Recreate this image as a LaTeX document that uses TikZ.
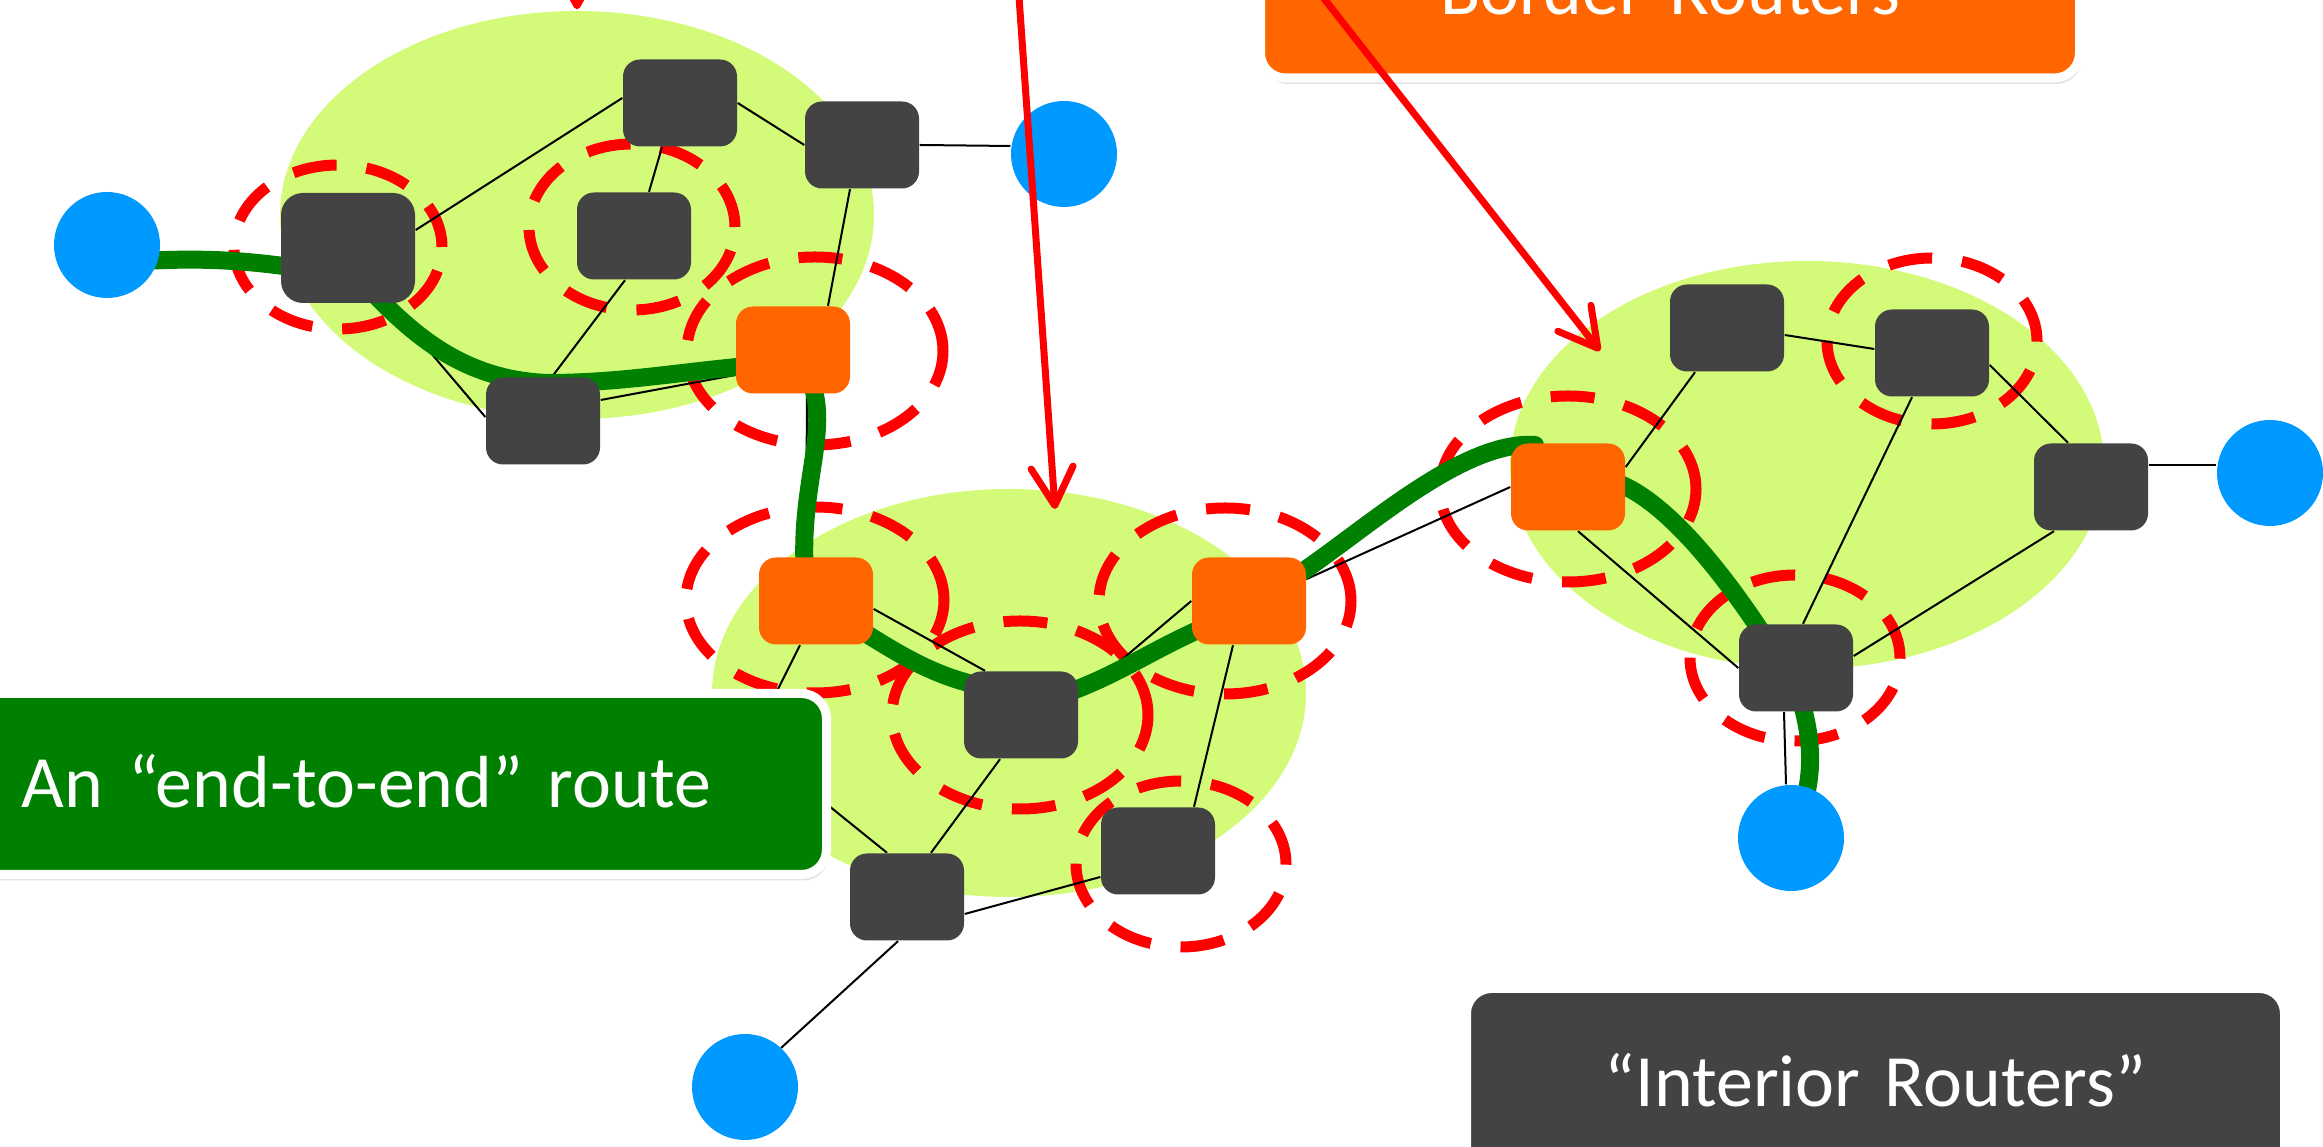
\documentclass[tikz,border=0pt]{standalone}
\usepackage{fontspec}
\setmainfont{Carlito}
\usetikzlibrary{arrows.meta,shapes.geometric,shadows}
\definecolor{blobgreen}{RGB}{212,250,122}
\definecolor{darkgray}{RGB}{67,67,67}
\definecolor{orng}{RGB}{255,102,0}
\definecolor{hostblue}{RGB}{0,153,255}
\definecolor{routegreen}{RGB}{0,128,0}
\newcommand\lblfont{\fontsize{21pt}{25pt}\selectfont}
\pgfdeclarelayer{blobs}\pgfdeclarelayer{rings}\pgfdeclarelayer{links}\pgfdeclarelayer{routes}
\pgfsetlayers{blobs,rings,links,routes,main}
\tikzset{
  blob/.style={ellipse, fill=blobgreen, minimum width=5.94cm, minimum height=4.08cm, inner sep=0},
  router/.style={rectangle, rounded corners=0.17cm, fill=darkgray, minimum width=1.14cm, minimum height=0.87cm, inner sep=0},
  border/.style={router, fill=orng},
  host/.style={circle, fill=hostblue, minimum size=1.06cm, inner sep=0},
  link/.style={line width=0.02cm, black},
  route/.style={line width=0.18cm, routegreen, line cap=round},
  ring/.style={red, line width=0.11cm, dash pattern=on 0.44cm off 0.30cm},
  pointer/.style={red, line width=0.07cm, line cap=round, -{Straight Barb[length=0.38cm, width=0.42cm, round]}},
  label/.style={rectangle, rounded corners=0.25cm, draw=white, line width=0.09cm, text=white, font=\lblfont,
    inner ysep=0, text height=0.47cm, text depth=0cm,
    drop shadow={shadow xshift=0.02cm, shadow yshift=-0.06cm, opacity=0.22}}
}
\begin{document}
\begin{tikzpicture}
\useasboundingbox (0,0) rectangle (23.23,-11.47);
% clusters
\begin{pgfonlayer}{blobs}
\node[blob] (cl1) at (5.77,-2.15) {};
\node[blob] (cl2) at (10.09,-6.93) {};
\node[blob] (cl3) at (18.07,-4.65) {};
\end{pgfonlayer}
% hosts and routers
\node[host] (bL) at (1.07,-2.45) {};
\node[router, minimum width=1.34cm, minimum height=1.10cm, rounded corners=0.22cm] (A) at (3.48,-2.48) {};
\node[router] (B) at (6.80,-1.03) {};
\node[router] (C) at (6.34,-2.36) {};
\node[router] (D) at (8.62,-1.45) {};
\node[router] (E) at (5.43,-4.21) {};
\node[border] (F1) at (7.93,-3.50) {};
\node[host] (bTR) at (10.64,-1.54) {};
\node[border] (F2) at (8.16,-6.01) {};
\node[border] (F3) at (12.49,-6.01) {};
\node[router] (M1) at (10.21,-7.15) {};
\node[router] (M2) at (11.58,-8.51) {};
\node[router] (M3) at (9.07,-8.97) {};
\node[host] (bB) at (7.45,-10.87) {};
\node[border] (F4) at (15.68,-4.87) {};
\node[router] (R1) at (17.27,-3.28) {};
\node[router] (R2) at (19.32,-3.53) {};
\node[router] (R3) at (20.91,-4.87) {};
\node[router] (R4) at (17.96,-6.68) {};
\node[host] (bR) at (22.70,-4.73) {};
\node[host] (bBR) at (17.91,-8.38) {};
\coordinate (hid) at (7.51,-7.43);
% dashed rings
\begin{pgfonlayer}{rings}
\draw[ring] (3.38,-2.47) ellipse [x radius=1.04, y radius=0.82];
\draw[ring] (6.32,-2.27) ellipse [x radius=1.03, y radius=0.83];
\draw[ring] (8.15,-3.51) ellipse [x radius=1.28, y radius=0.94];
\draw[ring] (8.15,-6.00) ellipse [x radius=1.29, y radius=0.93];
\draw[ring] (10.20,-7.15) ellipse [x radius=1.28, y radius=0.94];
\draw[ring] (12.25,-6.01) ellipse [x radius=1.26, y radius=0.93];
\draw[ring] (11.81,-8.64) ellipse [x radius=1.05, y radius=0.83];
\draw[ring] (15.68,-4.89) ellipse [x radius=1.28, y radius=0.93];
\draw[ring] (19.32,-3.41) ellipse [x radius=1.05, y radius=0.83];
\draw[ring] (17.95,-6.58) ellipse [x radius=1.05, y radius=0.83];
\end{pgfonlayer}
% thin links
\begin{pgfonlayer}{links}
\draw[link] ([yshift=0.18cm]A.east) -- ([yshift=0.05cm]B.west);
\draw[link] (B.east) -- (D.west);
\draw[link] ([xshift=-0.18cm]B.south) -- ([xshift=0.15cm]C.north);
\draw[link] ([xshift=-0.12cm]D.south) -- ([xshift=0.35cm]F1.north);
\draw[link] ([xshift=-0.09cm]C.south) -- ([xshift=0.09cm]E.north);
\draw[link] ([xshift=0.41cm]A.south) -- ([yshift=0.04cm]E.west);
\draw[link] ([yshift=0.21cm]E.east) -- ([yshift=-0.25cm]F1.west);
\draw[link] (D.east) -- ([yshift=0.08cm]bTR.west);
\draw[link] ([xshift=0.14cm]F1.south) -- ([xshift=-0.10cm]F2.north);
\draw[link] ([yshift=-0.08cm]F2.east) -- ([xshift=-0.36cm]M1.north);
\draw[link] ([xshift=-0.16cm]F2.south) -- (hid);
\draw[link] (hid) -- ([xshift=-0.20cm]M3.north);
\draw[link] ([xshift=-0.21cm]M1.south) -- ([xshift=0.24cm]M3.north);
\draw[link] ([yshift=0.19cm]M1.east) -- (F3.west);
\draw[link] ([xshift=-0.16cm]F3.south) -- ([xshift=0.36cm]M2.north);
\draw[link] ([yshift=-0.17cm]M3.east) -- ([yshift=-0.26cm]M2.west);
\draw[link] ([xshift=-0.09cm]M3.south) -- ([shift={(0.36,0.39)}]bB.center);
\draw[link] ([yshift=0.22cm]F3.east) -- (F4.west);
\draw[link] ([yshift=0.20cm]F4.east) -- ([xshift=-0.32cm]R1.south);
\draw[link] ([xshift=0.10cm]F4.south) -- (R4.west);
\draw[link] ([yshift=-0.07cm]R1.east) -- ([yshift=0.04cm]R2.west);
\draw[link] ([yshift=-0.12cm]R2.east) -- ([xshift=-0.23cm]R3.north);
\draw[link] ([xshift=-0.20cm]R2.south) -- ([xshift=0.07cm]R4.north);
\draw[link] ([xshift=-0.37cm]R3.south) -- ([yshift=0.12cm]R4.east);
\draw[link] ([yshift=0.22cm]R3.east) -- ([yshift=0.08cm]bR.west);
\draw[link] ([xshift=-0.12cm]R4.south) -- ([xshift=-0.05cm]bBR.north);
\end{pgfonlayer}
% end-to-end route
\begin{pgfonlayer}{routes}
\draw[route] ([shift={(0.35,-0.16)}]bL.center) .. controls (2.0,-2.58) and (2.4,-2.6) .. ([shift={(-0.57,-0.19)}]A.center);
\draw[route] ([shift={(0.25,-0.45)}]A.center) .. controls (4.1,-3.3) and (4.6,-3.8) .. (5.48,-3.83)
   .. controls (6.2,-3.83) and (6.8,-3.72) .. ([shift={(-0.45,-0.16)}]F1.center);
\draw[route] ([shift={(0.17,-0.30)}]F1.center) .. controls (8.32,-4.3) and (7.96,-4.9) .. ([shift={(-0.10,0.16)}]F2.center);
\draw[route] ([shift={(0.30,-0.20)}]F2.center) .. controls (9.0,-6.55) and (9.35,-6.78) .. ([shift={(-0.30,0.27)}]M1.center);
\draw[route] ([shift={(0.35,0.18)}]M1.center) .. controls (11.2,-6.75) and (11.5,-6.5) .. ([shift={(-0.35,-0.22)}]F3.center);
\draw[route] ([shift={(0.41,0.21)}]F3.center) .. controls (13.6,-5.35) and (14.6,-4.4) .. ([shift={(-0.33,0.42)}]F4.center);
\draw[route] ([shift={(0.22,0.09)}]F4.center) .. controls (16.5,-4.75) and (17.25,-5.75) .. ([shift={(-0.26,0.23)}]R4.center);
\draw[route] ([shift={(0.02,-0.22)}]R4.center) .. controls (18.1,-7.3) and (18.16,-7.65) .. ([shift={(0.11,0.28)}]bBR.center);
\end{pgfonlayer}
% label boxes
\node[label, fill=routegreen, inner xsep=0.82cm, text width=7.225cm, align=left, minimum height=1.81cm]
   (lroute) at (3.8325,-7.84) {An “end-to-end” route};
\node[label, fill=darkgray, inner xsep=0.2cm, text width=7.78cm, align=center, minimum height=1.9cm]
   (linterior) at (18.755,-10.835) {“Interior Routers”};
\node[label, fill=orng, inner xsep=0.2cm, text width=7.79cm, align=center, minimum height=1.73cm]
   (lborder) at (16.70,0.085) {Border Routers};
% red pointers
\coordinate (p1) at (5.77,0.6);
\coordinate (p2) at (10.15,0.6);
\coordinate (t2) at (10.55,-5.09);
\coordinate (p3) at (12.86,0.5);
\coordinate (t3) at (16.00,-3.51);
\draw[pointer] (p1) -- ([yshift=0.01cm]cl1.north);
\draw[pointer] (p2) -- (t2);
\draw[pointer] (p3) -- (t3);
\end{tikzpicture}
\end{document}
